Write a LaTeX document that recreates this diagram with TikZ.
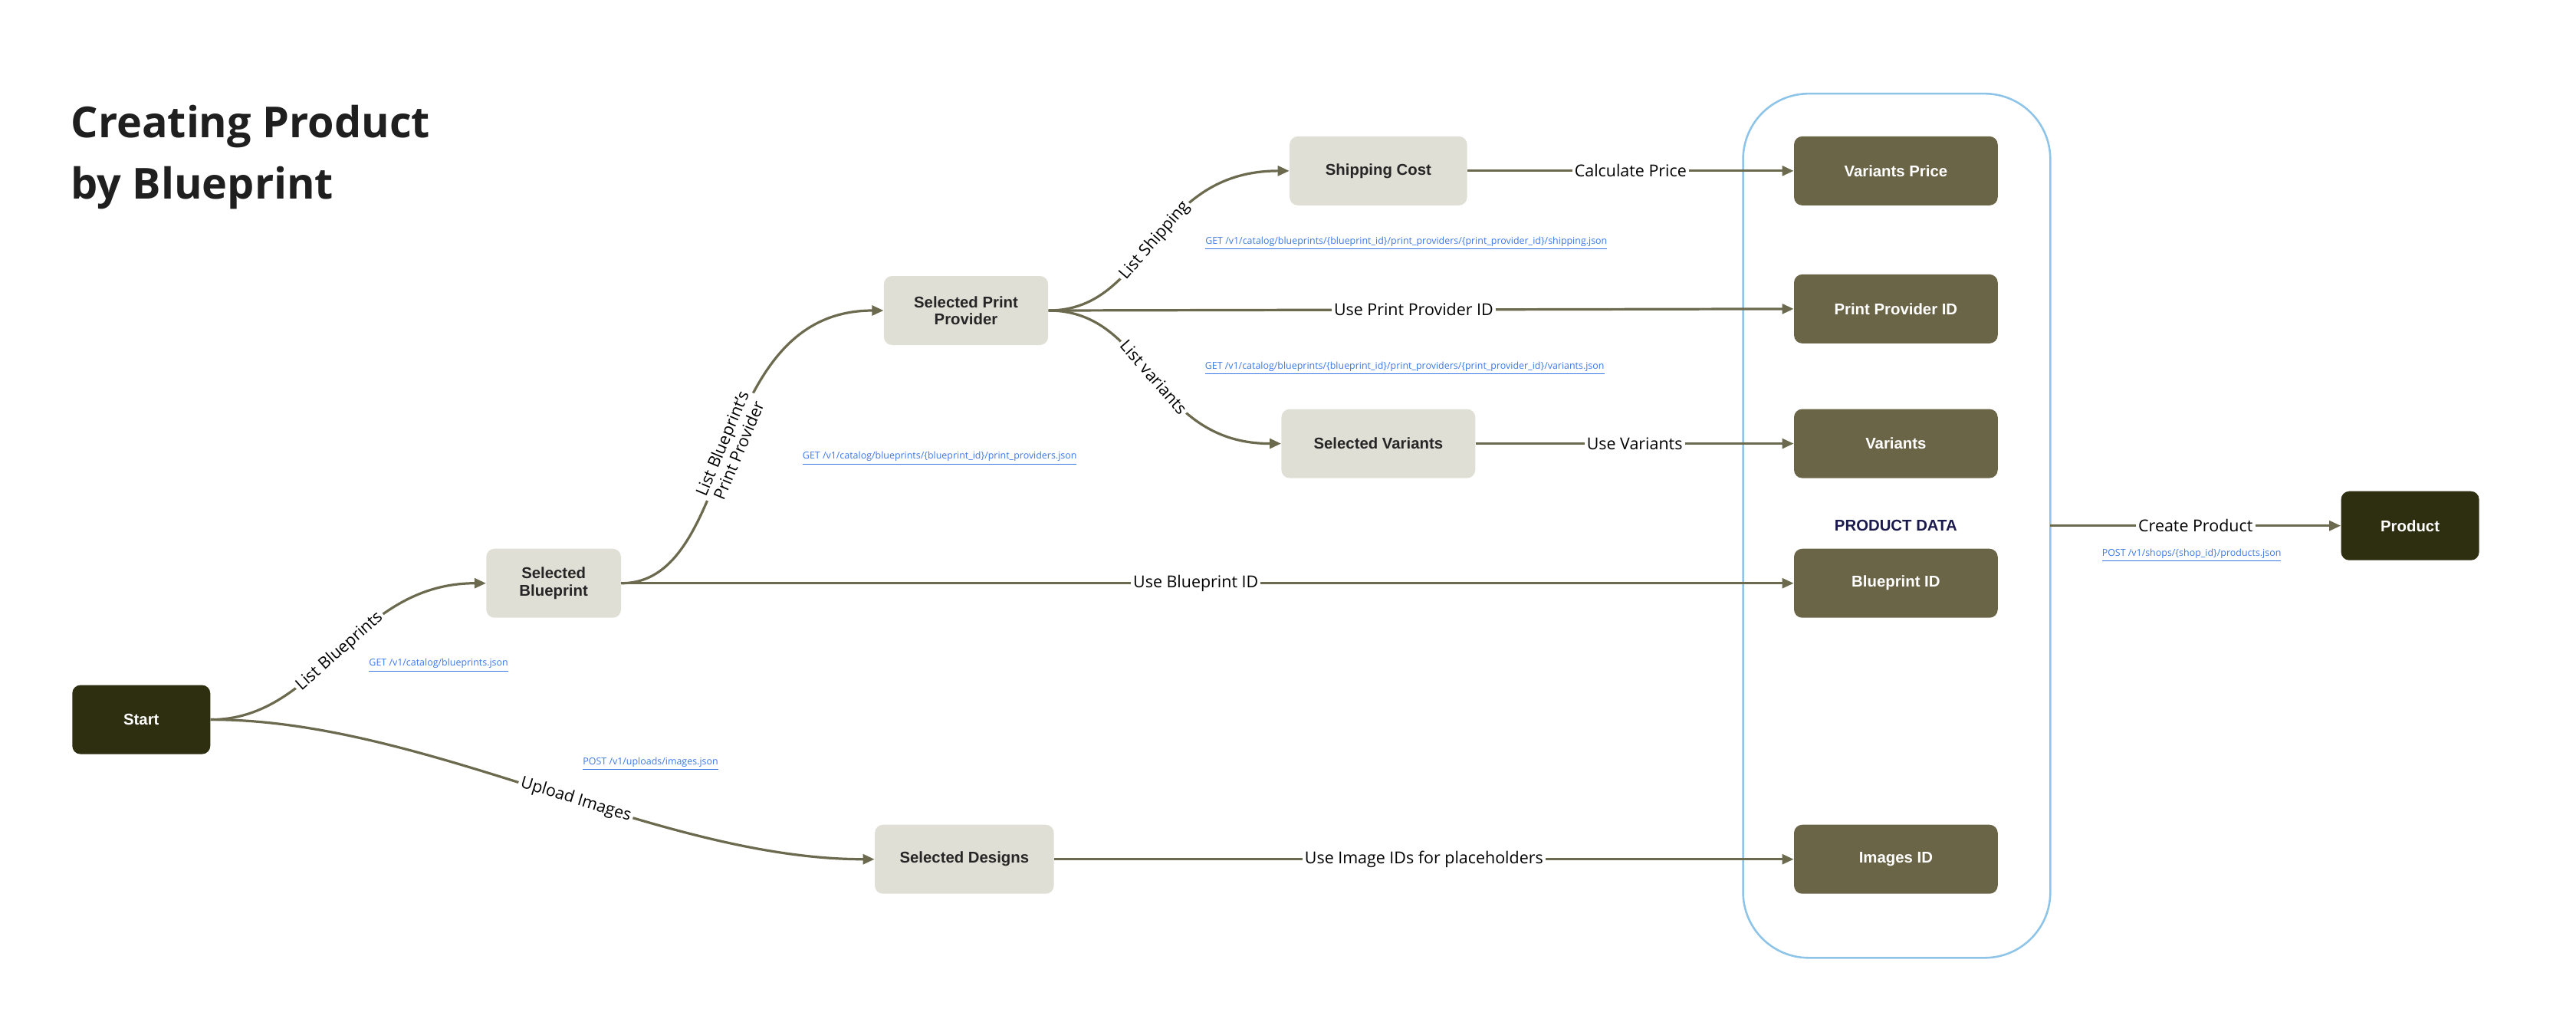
\documentclass[tikz,border=0pt]{standalone}
\usepackage{fontspec}
\setmainfont{Open Sans}
\newfontfamily\nodefont{Liberation Sans}
\newfontfamily\titlefont{Open Sans}
\usetikzlibrary{arrows.meta}
\definecolor{edge}{HTML}{6B6A4F}
\definecolor{lightn}{HTML}{E0DFD6}
\definecolor{midn}{HTML}{6B6548}
\definecolor{darkn}{HTML}{2E2E10}
\definecolor{boxc}{HTML}{8EC4E8}
\definecolor{url}{HTML}{3B78E7}
\definecolor{navy}{HTML}{1A1A4E}
\begin{document}
\begin{tikzpicture}[x=1pt,y=-1pt,
  base/.style={rounded corners=5pt,font=\nodefont\bfseries\fontsize{9.5}{10.5}\selectfont,align=center,inner sep=0pt},
  light/.style={base,fill=lightn,text=black!85},
  mid/.style={base,fill=midn,text=white,minimum width=124pt,minimum height=42pt},
  dark/.style={base,fill=darkn,text=white,minimum width=84pt,minimum height=42pt},
  e/.style={draw=edge,line width=1.5pt,-{Triangle[length=7pt,width=6pt]}},
  lab/.style={fill=white,font=\fontsize{10}{11}\selectfont,inner sep=1.5pt,text=black},
  u/.style={font=\fontsize{5.8}{6}\selectfont,text=url}]
\useasboundingbox (0,0) rectangle (1568,622);
\node[font=\titlefont\bfseries\fontsize{26}{37}\selectfont,text=black!88,anchor=north west,align=left,inner sep=0pt] (title) at (43,64) {Creating Product\\by Blueprint};
\draw[boxc,line width=1.2pt,rounded corners=40pt] (1061,57) rectangle (1248,583);
\coordinate (boxe) at (1248,320);
\node[font=\nodefont\bfseries\fontsize{9.5}{10.5}\selectfont,text=navy] (pd) at (1154,320) {PRODUCT DATA};
\node[dark] (start) at (86,438) {Start};
\node[light,minimum width=82pt,minimum height=42pt] (sb) at (337,355) {Selected\\Blueprint};
\node[light,minimum width=100pt,minimum height=42pt] (spp) at (588,189) {Selected Print\\Provider};
\node[light,minimum width=108pt,minimum height=42pt] (sc) at (839,104) {Shipping Cost};
\node[light,minimum width=118pt,minimum height=42pt] (sv) at (839,270) {Selected Variants};
\node[light,minimum width=109pt,minimum height=42pt] (sd) at (587,523) {Selected Designs};
\node[mid] (vp) at (1154,104) {Variants Price};
\node[mid] (ppid) at (1154,188) {Print Provider ID};
\node[mid] (var) at (1154,270) {Variants};
\node[mid] (bid) at (1154,355) {Blueprint ID};
\node[mid] (iid) at (1154,523) {Images ID};
\node[dark] (prod) at (1467,320) {Product};

\draw[e] (start.east) .. controls (195,438) and (215,355) .. node[lab,sloped,pos=0.5] {List Blueprints} (sb.west);
\draw[e] (sb.east) .. controls (450,355) and (430,189) .. node[lab,sloped,pos=0.5,align=center] {List Blueprint's\\Print Provider} (spp.west);
\draw[e] (spp.east) .. controls (700,189) and (700,104) .. node[lab,sloped,pos=0.5] {List Shipping} (sc.west);
\draw[e] (spp.east) .. controls (700,189) and (700,270) .. node[lab,sloped,pos=0.5] {List variants} (sv.west);
\draw[e] (spp.east) -- node[lab,pos=0.49] {Use Print Provider ID} (ppid.west);
\draw[e] (sc.east) -- node[lab] {Calculate Price} (vp.west);
\draw[e] (sv.east) -- node[lab] {Use Variants} (var.west);
\draw[e] (sb.east) -- node[lab,pos=0.49] {Use Blueprint ID} (bid.west);
\draw[e] (start.east) .. controls (260,438) and (400,523) .. node[lab,sloped,pos=0.55] {Upload Images} (sd.west);
\draw[e] (sd.east) -- node[lab] {Use Image IDs for placeholders} (iid.west);
\draw[e] (boxe) -- node[lab] {Create Product} (prod.west);

\node[u] (u1) at (267,405) {\underline{GET /v1/catalog/blueprints.json}};
\node[u] (u2) at (396,465) {\underline{POST /v1/uploads/images.json}};
\node[u] (u3) at (572,279) {\underline{GET /v1/catalog/blueprints/\{blueprint\_id\}/print\_providers.json}};
\node[u] (u4) at (856,148) {\underline{GET /v1/catalog/blueprints/\{blueprint\_id\}/print\_providers/\{print\_provider\_id\}/shipping.json}};
\node[u] (u5) at (855,224) {\underline{GET /v1/catalog/blueprints/\{blueprint\_id\}/print\_providers/\{print\_provider\_id\}/variants.json}};
\node[u] (u6) at (1334,338) {\underline{POST /v1/shops/\{shop\_id\}/products.json}};
\end{tikzpicture}
\end{document}
